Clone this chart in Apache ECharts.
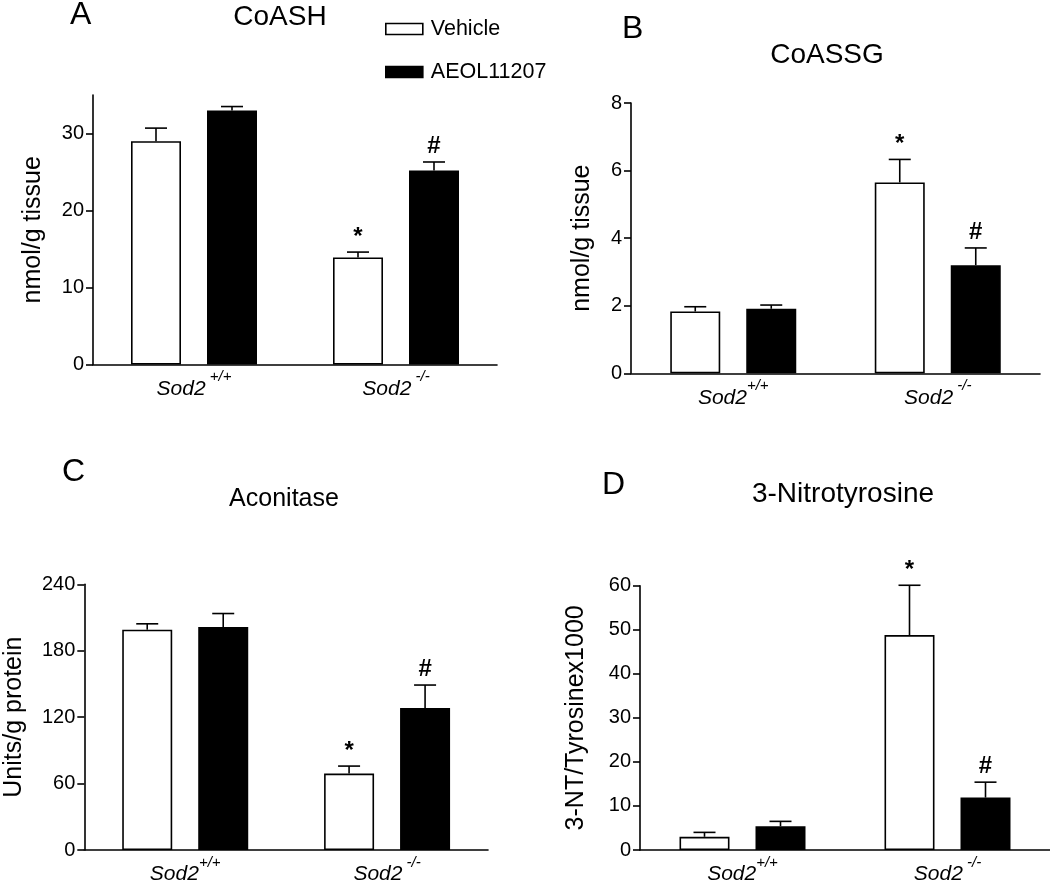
<!DOCTYPE html>
<html>
<head>
<meta charset="utf-8">
<script src="https://cdn.jsdelivr.net/npm/echarts@6/dist/echarts.min.js"></script>
<style>
html,body{margin:0;padding:0;background:#fff;}
#chart{width:1050px;height:885px;}
</style>
</head>
<body>
<div id="chart"></div>
<script>
// ---------- DATA ----------
const seriesNames = ['Vehicle', 'AEOL11207'];

// Panel A: CoASH
const catsA = ['Sod2 +/+', 'Sod2 -/-'];
const vehicleA = [29.0, 13.9];
const vehicleErrA = [1.7, 0.7];
const aeolA = [33.0, 25.2];
const aeolErrA = [0.5, 1.1];
const vehicleSigA = ['', '*'];
const aeolSigA = ['', '#'];
const ticksA = [0, 10, 20, 30];

// Panel B: CoASSG
const catsB = ['Sod2+/+', 'Sod2 -/-'];
const vehicleB = [1.83, 5.65];
const vehicleErrB = [0.14, 0.68];
const aeolB = [1.91, 3.2];
const aeolErrB = [0.11, 0.51];
const vehicleSigB = ['', '*'];
const aeolSigB = ['', '#'];
const ticksB = [0, 2, 4, 6, 8];

// Panel C: Aconitase
const catsC = ['Sod2+/+', 'Sod2 -/-'];
const vehicleC = [199, 69];
const vehicleErrC = [5.3, 6.8];
const aeolC = [201.4, 128.3];
const aeolErrC = [12.2, 20.7];
const vehicleSigC = ['', '*'];
const aeolSigC = ['', '#'];
const ticksC = [0, 60, 120, 180, 240];

// Panel D: 3-Nitrotyrosine
const catsD = ['Sod2+/+', 'Sod2 -/-'];
const vehicleD = [3.0, 48.8];
const vehicleErrD = [1.0, 11.3];
const aeolD = [5.4, 11.9];
const aeolErrD = [1.1, 3.5];
const vehicleSigD = ['', '*'];
const aeolSigD = ['', '#'];
const ticksD = [0, 10, 20, 30, 40, 50, 60];

// ---------- LAYOUT / STYLE ----------
const FONT = '"Liberation Sans", Arial, Helvetica, sans-serif';
const BAR_W = 50, BAR_GAP_PX = 26;
const OFFSET = (BAR_W + BAR_GAP_PX) / 2;
const CAP = 11;

const panels = [
  {cats: catsA, veh: vehicleA, vehE: vehicleErrA, aeo: aeolA, aeoE: aeolErrA, vS: vehicleSigA, aS: aeolSigA, ticks: ticksA,
   max: 35, name: 'nmol/g tissue', nameGap: 47, grid: {left: 93, top: 95, width: 404, height: 269.5}},
  {cats: catsB, veh: vehicleB, vehE: vehicleErrB, aeo: aeolB, aeoE: aeolErrB, vS: vehicleSigB, aS: aeolSigB, ticks: ticksB,
   max: 8, name: 'nmol/g tissue', nameGap: 36, grid: {left: 631, top: 103, width: 409, height: 270.3}},
  {cats: catsC, veh: vehicleC, vehE: vehicleErrC, aeo: aeolC, aeoE: aeolErrC, vS: vehicleSigC, aS: aeolSigC, ticks: ticksC,
   max: 240, name: 'Units/g protein', nameGap: 58, grid: {left: 84.3, top: 584.3, width: 403.7, height: 270}},
  {cats: catsD, veh: vehicleD, vehE: vehicleErrD, aeo: aeolD, aeoE: aeolErrD, vS: vehicleSigD, aS: aeolSigD, ticks: ticksD,
   max: 60, name: '3-NT/Tyrosinex1000', nameGap: 51, grid: {left: 640, top: 585.7, width: 410, height: 269.3}}
];

function catFormatter(v) {
  const m = v.match(/^(Sod2)(\s?)(.*)$/);
  return '{i|' + m[1] + '}{s|' + (m[2] ? ' ' : '') + m[3] + '}';
}

const grids = [], xAxes = [], yAxes = [], series = [];
panels.forEach((p, k) => {
  grids.push(Object.assign({containLabel: false}, p.grid));
  xAxes.push({
    type: 'category', gridIndex: k, data: p.cats,
    axisLine: {lineStyle: {color: '#000', width: 1.6}},
    axisTick: {show: false},
    axisLabel: {
      margin: 5, formatter: catFormatter,
      rich: {
        i: {fontFamily: FONT, fontSize: 21, fontStyle: 'italic', color: '#000', lineHeight: 30, verticalAlign: 'bottom'},
        s: {fontFamily: FONT, fontSize: 15, fontStyle: 'italic', color: '#000', lineHeight: 18, verticalAlign: 'top'}
      }
    }
  });
  yAxes.push({
    type: 'value', gridIndex: k, min: 0, max: p.max,
    splitLine: {show: false},
    axisLine: {show: true, lineStyle: {color: '#000', width: 1.6}},
    axisTick: {show: true, length: 7, lineStyle: {color: '#000', width: 1.6}, customValues: p.ticks},
    axisLabel: {color: '#000', fontFamily: FONT, fontSize: 20, margin: 9, customValues: p.ticks},
    name: p.name, nameLocation: 'middle', nameRotate: 90, nameGap: p.nameGap,
    nameTextStyle: {color: '#000', fontFamily: FONT, fontSize: 25}
  });
  series.push({
    name: seriesNames[0], type: 'bar', xAxisIndex: k, yAxisIndex: k,
    data: p.veh, barWidth: BAR_W, barGap: (BAR_GAP_PX / BAR_W * 100) + '%',
    itemStyle: {color: '#fff', borderColor: '#000', borderWidth: 1.6},
    emphasis: {disabled: true}, animation: false
  });
  series.push({
    name: seriesNames[1], type: 'bar', xAxisIndex: k, yAxisIndex: k,
    data: p.aeo, barWidth: BAR_W, barGap: (BAR_GAP_PX / BAR_W * 100) + '%',
    itemStyle: {color: '#000', borderColor: '#000', borderWidth: 1.6},
    emphasis: {disabled: true}, animation: false
  });
  const errData = [];
  p.cats.forEach((c, i) => {
    errData.push([i, p.veh[i], p.vehE[i], -1, p.vS[i]]);
    errData.push([i, p.aeo[i], p.aeoE[i], 1, p.aS[i]]);
  });
  series.push({
    type: 'custom', xAxisIndex: k, yAxisIndex: k, z: 5, clip: false, animation: false, silent: true,
    data: errData,
    renderItem: function (params, api) {
      const c = api.value(0), v = api.value(1), e = api.value(2), side = api.value(3);
      const sig = errData[params.dataIndex][4];
      const p0 = api.coord([c, v]);
      const p1 = api.coord([c, v + e]);
      const x = p0[0] + side * OFFSET;
      const st = {stroke: '#000', lineWidth: 1.6};
      const children = [
        {type: 'line', shape: {x1: x, y1: p0[1], x2: x, y2: p1[1]}, style: st},
        {type: 'line', shape: {x1: x - CAP, y1: p1[1], x2: x + CAP, y2: p1[1]}, style: st}
      ];
      if (sig) {
        children.push({type: 'text', style: {
          text: sig, x: x, y: p1[1] - (sig === '*' ? 3 : 4),
          align: 'center', verticalAlign: 'bottom',
          fontFamily: FONT, fontSize: 24, fontWeight: 'bold', fill: '#000'
        }});
      }
      return {type: 'group', children: children};
    }
  });
});

const titleStyle = (size) => ({fontFamily: FONT, fontSize: size, fontWeight: 'normal', color: '#000', lineHeight: size});
const titles = [
  {text: 'A', left: 70, top: -1, padding: 0, textStyle: titleStyle(32)},
  {text: 'B', left: 622, top: 13, padding: 0, textStyle: titleStyle(32)},
  {text: 'C', left: 62, top: 456, padding: 0, textStyle: titleStyle(32)},
  {text: 'D', left: 602, top: 469, padding: 0, textStyle: titleStyle(32)},
  {text: 'CoASH', left: 280, top: 3, textAlign: 'center', padding: 0, textStyle: titleStyle(28)},
  {text: 'CoASSG', left: 827, top: 41, textAlign: 'center', padding: 0, textStyle: titleStyle(28)},
  {text: 'Aconitase', left: 284, top: 487, textAlign: 'center', padding: 0, textStyle: titleStyle(25)},
  {text: '3-Nitrotyrosine', left: 843, top: 480, textAlign: 'center', padding: 0, textStyle: titleStyle(28)}
];

const chart = echarts.init(document.getElementById('chart'), null, {renderer: 'canvas'});
chart.setOption({
  animation: false,
  backgroundColor: '#fff',
  title: titles,
  legend: {
    orient: 'vertical', left: 385, top: 18, padding: 0,
    itemWidth: 37, itemHeight: 11, itemGap: 21, icon: 'rect',
    selectedMode: false,
    textStyle: {fontFamily: FONT, fontSize: 21.5, color: '#000', lineHeight: 21, padding: [0, 0, 0, 3]},
    data: [
      {name: seriesNames[0], itemStyle: {color: '#fff', borderColor: '#000', borderWidth: 1.6}},
      {name: seriesNames[1], itemStyle: {color: '#000', borderColor: '#000', borderWidth: 1.6}}
    ]
  },
  grid: grids,
  xAxis: xAxes,
  yAxis: yAxes,
  series: series
});
</script>
</body>
</html>
